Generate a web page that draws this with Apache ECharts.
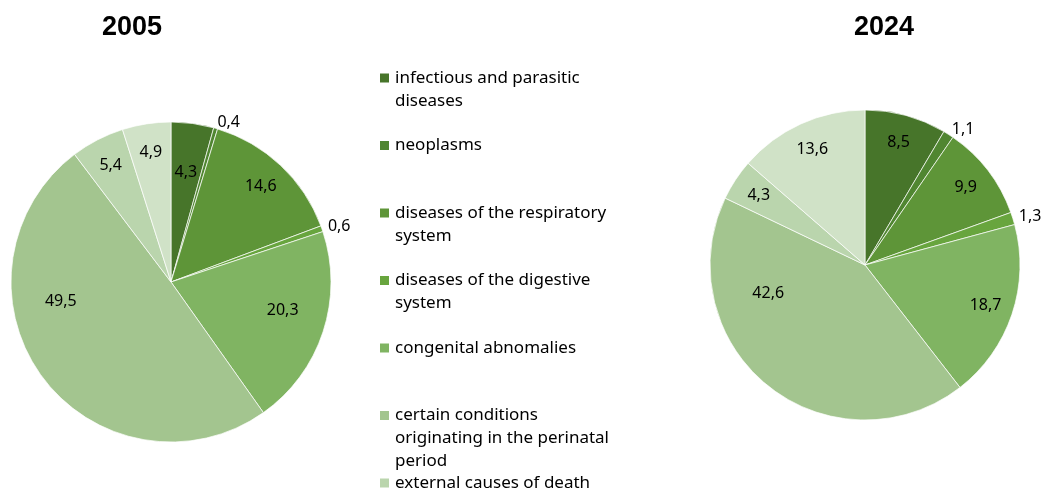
<!DOCTYPE html>
<html>
<head>
<meta charset="utf-8">
<script src="https://cdn.jsdelivr.net/npm/echarts@6/dist/echarts.min.js"></script>
<style>
  html, body { margin: 0; padding: 0; background: #fff; }
  #chart { width: 1042px; height: 491px; }
</style>
</head>
<body>
<div id="chart"></div>
<script>
  // causes of death (last one is cut off in the legend of the original)
  const categories = [
    'infectious and parasitic\ndiseases',
    'neoplasms',
    'diseases of the respiratory\nsystem',
    'diseases of the digestive\nsystem',
    'congenital abnomalies',
    'certain conditions\noriginating in the perinatal\nperiod',
    'external causes of death',
    'other causes'
  ]
  const years = ['2005', '2024']
  const values2005 = [4.3, 0.4, 14.6, 0.6, 20.3, 49.5, 5.4, 4.9]
  const values2024 = [8.5, 1.1, 9.9, 1.3, 18.7, 42.6, 4.3, 13.6]

  const colors = ['#47752a', '#508631', '#5e9538', '#68a53e', '#80b462', '#a3c58f', '#bad5ad', '#d0e2c7']
  const font = 'Noto Sans'

  // label tweaks (excel "best fit" style): k = distance / radius, turn = degrees
  const pies = [
    { center: [171, 282], r: 160, titleX: 132, values: values2005,
      tweak: { 0: { k: 0.69 }, 4: { k: 0.72, turn: -4 }, 5: { k: 0.70, turn: 26 } } },
    { center: [865, 265], r: 155, titleX: 884, values: values2024,
      tweak: { 5: { k: 0.65, turn: 35 } } }
  ]

  const chart = echarts.init(document.getElementById('chart'))

  // take the library's inside label direction and move it along
  function placeLabel(pie) {
    return function (params) {
      const rect = params.labelRect
      const dx = rect.x + rect.width / 2 - pie.center[0]
      const dy = rect.y + rect.height / 2 - pie.center[1]
      const t = pie.tweak[params.dataIndex] || {}
      let a = Math.atan2(dx, -dy) + (t.turn || 0) * Math.PI / 180
      const ux = Math.sin(a), uy = -Math.cos(a)
      const small = pie.values[params.dataIndex] < 2
      const k = t.k || (small ? 1.04 : 0.82)
      let x = pie.center[0] + ux * k * pie.r
      let y = pie.center[1] + uy * k * pie.r
      if (small) x += (ux > 0 ? 1 : -1) * rect.width / 2
      return { x: x, y: y, align: 'center', verticalAlign: 'middle' }
    }
  }

  const lineH = 23
  const legends = categories.slice(0, 7).map((name, i) => {
    const lines = name.split('\n').length
    const iconY = 78 + i * 67.5
    return {
      data: [name],
      left: 378,
      top: iconY - (2 * lines - 1) * lineH / 2,
      padding: 0,
      icon: 'rect',
      itemWidth: 11,
      itemHeight: 11,
      // blank lines on top keep the marker beside the first line
      formatter: (n) => '\n'.repeat(lines - 1) + n,
      textStyle: {
        fontFamily: font,
        fontSize: 17,
        lineHeight: lineH,
        color: '#000'
      }
    }
  })

  const option = {
    color: colors,
    animation: false,
    title: pies.map((p, i) => ({
      text: years[i],
      left: p.titleX,
      top: 14,
      padding: 0,
      textAlign: 'center',
      textStyle: { fontFamily: 'Liberation Sans', fontSize: 27, fontWeight: 'bold', color: '#000' }
    })),
    legend: legends,
    series: pies.map((p, i) => ({
      name: years[i],
      type: 'pie',
      center: p.center,
      radius: [0, p.r],
      startAngle: 90,
      clockwise: true,
      avoidLabelOverlap: false,
      itemStyle: { borderColor: '#fff', borderWidth: 0.7 },
      label: {
        position: 'inside',
        fontFamily: font,
        fontSize: 16,
        color: '#000',
        formatter: (params) => String(params.value).replace('.', ',')
      },
      labelLine: { show: false },
      labelLayout: placeLabel(p),
      emphasis: { disabled: true },
      data: p.values.map((v, j) => ({ name: categories[j], value: v }))
    }))
  }

  chart.setOption(option)
</script>
</body>
</html>
